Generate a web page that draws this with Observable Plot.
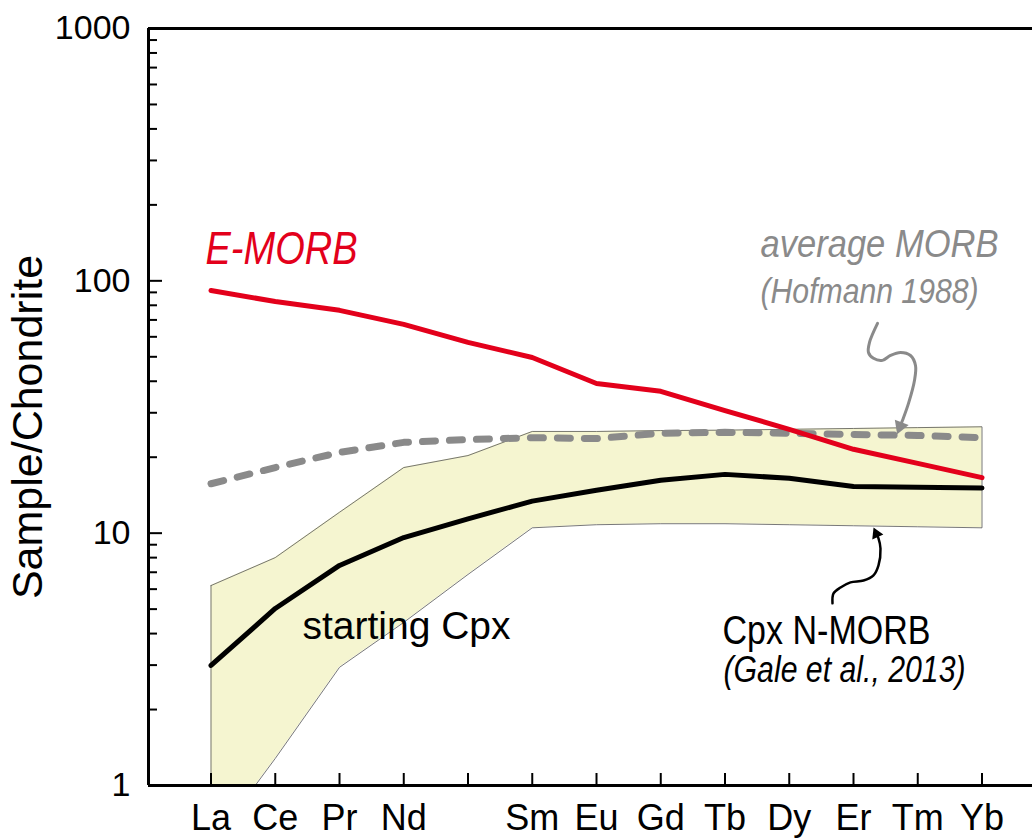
<!DOCTYPE html>
<html>
<head>
<meta charset="utf-8">
<script src="https://cdn.jsdelivr.net/npm/d3@7"></script>
<script src="https://cdn.jsdelivr.net/npm/@observablehq/plot@0.6"></script>
<style>
  html, body { margin: 0; padding: 0; background: #fff; }
  #chart svg { display: block; }
</style>
</head>
<body>
<div id="chart"></div>
<script>
// ---- data ----
const elements = ["La","Ce","Pr","Nd","Pm","Sm","Eu","Gd","Tb","Dy","Er","Tm","Yb"];
const elementLabels = ["La","Ce","Pr","Nd","","Sm","Eu","Gd","Tb","Dy","Er","Tm","Yb"];
const eMorb    = [91.6, 82.8, 76.4, 67.2, 57.0, 49.7, 39.2, 36.5, 30.6, 25.8, 21.5, 18.9, 16.6];
const avgMorb  = [15.7, 18.2, 20.9, 22.9, 23.5, 23.9, 23.7, 24.9, 25.1, 24.9, 24.6, 24.4, 23.9];
const cpxMean  = [2.99, 5.03, 7.45, 9.61, 11.4, 13.4, 14.8, 16.2, 17.1, 16.5, 15.3, 15.2, 15.1];
const cpxUpper = [6.2, 8.0, 12.1, 18.2, 20.3, 25.3, 25.3, 25.5, 25.6, 25.8, 26.0, 26.2, 26.4];
const cpxLower = [0.58, 1.28, 2.94, 4.43, 6.86, 10.5, 10.8, 10.9, 10.9, 10.8, 10.7, 10.6, 10.5];
const yMajorTicks = [1, 10, 100, 1000];
const yLabel = "Sample/Chondrite";

// annotation positions (x = element index, y = Sample/Chondrite value)
const notes = [
  {text: "E-MORB", x: -0.086, y: 117, color: "#e3001b", size: 46, italic: true, width: 152},
  {text: "average MORB", x: 8.553, y: 124, color: "#8a8a8a", size: 38, italic: true, width: 238},
  {text: "(Hofmann 1988)", x: 8.553, y: 82, color: "#8a8a8a", size: 35, italic: true, width: 218},
  {text: "starting Cpx", x: 1.424, y: 3.82, color: "#000", size: 38, italic: false, width: 208},
  {text: "Cpx N-MORB", x: 7.961, y: 3.65, color: "#000", size: 40, italic: false, width: 208},
  {text: "(Gale et al., 2013)", x: 7.977, y: 2.56, color: "#000", size: 36, italic: true, width: 242}
];
const grayArrow = [
  [10.374, 67.8], [10.249, 57.0], [10.233, 52.0], [10.311, 49.3], [10.451, 48.4],
  [10.576, 50.6], [10.732, 52.0], [10.887, 50.6], [10.965, 46.2], [10.949, 40.3],
  [10.856, 32.7], [10.763, 28.0], [10.727, 26.5]
];
const grayHead = {x: 10.727, y: 26.5, angle: 201};
const blackArrow = [
  [9.673, 5.27], [9.689, 5.77], [9.798, 6.09], [9.953, 6.38], [10.156, 6.49],
  [10.311, 6.80], [10.389, 7.45], [10.420, 8.70], [10.389, 9.53], [10.356, 9.94]
];
const blackHead = {x: 10.356, y: 9.94, angle: -24};

// ---- build ----
const rows = elements.map((e, i) => ({
  i, e, label: elementLabels[i],
  emorb: eMorb[i], avg: avgMorb[i], mean: cpxMean[i], upper: cpxUpper[i], lower: cpxLower[i]
}));
const outline = [
  ...rows.map(d => ({x: d.i, y: d.upper})),
  ...rows.slice().reverse().map(d => ({x: d.i, y: d.lower})),
  {x: rows[0].i, y: rows[0].upper}
];
const yMinorTicks = [];
for (let k = 0; k < 3; k++) for (let m = 2; m <= 9; m++) yMinorTicks.push(m * Math.pow(10, k));

const W = 1032, H = 839, mL = 148, mR = 0, mT = 28, mB = 54;
const xMin = -0.973, xMax = 12.786;
const plotH = H - mT - mB, plotW = W - mL - mR;
const regular = "'Liberation Sans', Arial, Helvetica, sans-serif";

const noteMarks = notes.map(n => Plot.text([n], {
  x: "x", y: "y", text: "text", fill: n.color, fontSize: n.size,
  fontStyle: n.italic ? "italic" : "normal",
  textAnchor: "start", lineAnchor: "bottom"
}));

const chart = Plot.plot({
  width: W, height: H,
  marginLeft: mL, marginRight: mR, marginTop: mT, marginBottom: mB,
  style: {fontFamily: regular, background: "#fff", overflow: "visible"},
  x: {type: "linear", domain: [xMin, xMax], axis: null},
  y: {type: "log", domain: [1, 1000], axis: null},
  marks: [
    // band
    Plot.areaY(rows, {x: "i", y1: "lower", y2: "upper", fill: "#f5f5d0", clip: true}),
    Plot.line(outline, {x: "x", y: "y", stroke: "#555", strokeWidth: 0.8, clip: true}),
    // series
    Plot.line(rows, {x: "i", y: "avg", stroke: "#8a8a8a", strokeWidth: 7,
      strokeDasharray: "13,14", strokeLinecap: "round"}),
    Plot.line(rows, {x: "i", y: "mean", stroke: "#000", strokeWidth: 5}),
    Plot.line(rows, {x: "i", y: "emorb", stroke: "#e3001b", strokeWidth: 5}),
    // arrows
    Plot.line(grayArrow, {x: d => d[0], y: d => d[1], stroke: "#8a8a8a", strokeWidth: 3, curve: "catmull-rom"}),
    Plot.dot([grayHead], {x: "x", y: "y", symbol: "triangle", r: 5.5, fill: "#8a8a8a", rotate: "angle"}),
    Plot.line(blackArrow, {x: d => d[0], y: d => d[1], stroke: "#000", strokeWidth: 2.5, curve: "catmull-rom"}),
    Plot.dot([blackHead], {x: "x", y: "y", symbol: "triangle", r: 4.5, fill: "#000", rotate: "angle"}),
    // frame
    Plot.ruleY([1], {stroke: "#000", strokeWidth: 3}),
    Plot.ruleY([1000], {stroke: "#000", strokeWidth: 3}),
    Plot.ruleX([xMin], {stroke: "#000", strokeWidth: 3}),
    // ticks (inward)
    Plot.tickX(rows, {x: "i", stroke: "#000", strokeWidth: 2, insetTop: plotH - 12}),
    Plot.tickY(yMajorTicks, {y: d => d, stroke: "#000", strokeWidth: 2, insetRight: plotW - 14}),
    Plot.tickY(yMinorTicks, {y: d => d, stroke: "#000", strokeWidth: 2, insetRight: plotW - 9}),
    // tick labels
    Plot.text(rows, {x: "i", text: "label", frameAnchor: "bottom", dy: 19, lineAnchor: "top",
      fontSize: 36, fill: "#000"}),
    Plot.text(yMajorTicks, {y: d => d, text: d => String(d), frameAnchor: "left", dx: -18,
      textAnchor: "end", fontSize: 34, fill: "#000"}),
    // y label
    Plot.text([yLabel], {text: d => d, frameAnchor: "left", dx: -120, dy: 20, rotate: -90,
      textAnchor: "middle", fontSize: 43, fill: "#000"}),
    ...noteMarks
  ]
});

// condense annotation texts to the reference's narrow lettering
const svg = d3.select(chart);
notes.forEach(n => {
  svg.selectAll("text")
    .filter(function() { return this.textContent === n.text; })
    .attr("textLength", n.width)
    .attr("lengthAdjust", "spacingAndGlyphs");
});
document.getElementById("chart").appendChild(chart);
</script>
</body>
</html>
